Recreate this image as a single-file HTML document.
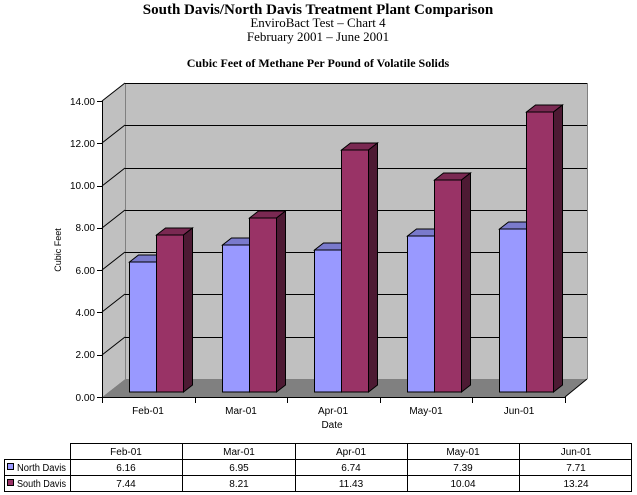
<!DOCTYPE html>
<html><head><meta charset="utf-8"><style>
body{margin:0;background:#fff;width:637px;height:495px;overflow:hidden}
svg{display:block}
.s{font-family:"Liberation Sans",sans-serif;font-size:10px}
.t{font-family:"Liberation Serif",serif}
</style></head><body>
<svg id="c" width="637" height="495" xmlns="http://www.w3.org/2000/svg">
<text class="t" x="318" y="14" text-anchor="middle" font-size="15" font-weight="bold">South Davis/North Davis Treatment Plant Comparison</text>
<text class="t" x="318" y="27" text-anchor="middle" font-size="13">EnviroBact Test – Chart 4</text>
<text class="t" x="318" y="41" text-anchor="middle" font-size="13">February 2001 – June 2001</text>
<text class="t" x="318" y="67" text-anchor="middle" font-size="12" font-weight="bold">Cubic Feet of Methane Per Pound of Volatile Solids</text>
<g id="plot"></g>
<g class="s">
<text x="95" y="105" text-anchor="end">14.00</text>
<text x="95" y="147" text-anchor="end">12.00</text>
<text x="95" y="189" text-anchor="end">10.00</text>
<text x="95" y="231" text-anchor="end">8.00</text>
<text x="95" y="274" text-anchor="end">6.00</text>
<text x="95" y="316" text-anchor="end">4.00</text>
<text x="95" y="358" text-anchor="end">2.00</text>
<text x="95" y="401" text-anchor="end">0.00</text>
<text x="148" y="414" text-anchor="middle">Feb-01</text>
<text x="241" y="414" text-anchor="middle">Mar-01</text>
<text x="333" y="414" text-anchor="middle">Apr-01</text>
<text x="426" y="414" text-anchor="middle">May-01</text>
<text x="519" y="414" text-anchor="middle">Jun-01</text>
<text x="332" y="428" text-anchor="middle">Date</text>
<text transform="translate(61,250) rotate(-90)" text-anchor="middle" font-size="9">Cubic Feet</text>
</g>
<g class="s" stroke="#000" fill="none">
<line x1="70" y1="443.5" x2="632" y2="443.5"/>
<line x1="4" y1="459.5" x2="632" y2="459.5"/>
<line x1="4" y1="475.5" x2="632" y2="475.5"/>
<line x1="4" y1="491.5" x2="632" y2="491.5"/>
<line x1="4.5" y1="459" x2="4.5" y2="492"/>
<line x1="70.5" y1="443" x2="70.5" y2="492"/>
<line x1="182.5" y1="443" x2="182.5" y2="492"/>
<line x1="295.5" y1="443" x2="295.5" y2="492"/>
<line x1="407.5" y1="443" x2="407.5" y2="492"/>
<line x1="519.5" y1="443" x2="519.5" y2="492"/>
<line x1="631.5" y1="443" x2="631.5" y2="492"/>
<rect x="7.5" y="463.5" width="6" height="6" fill="#9999ff"/>
<rect x="7.5" y="479.5" width="6" height="6" fill="#993366"/>
</g>
<g class="s" text-anchor="middle">
<text x="126" y="455">Feb-01</text><text x="239" y="455">Mar-01</text><text x="351" y="455">Apr-01</text><text x="463" y="455">May-01</text><text x="576" y="455">Jun-01</text>
<text x="126" y="471">6.16</text><text x="239" y="471">6.95</text><text x="351" y="471">6.74</text><text x="463" y="471">7.39</text><text x="576" y="471">7.71</text>
<text x="126" y="487">7.44</text><text x="239" y="487">8.21</text><text x="351" y="487">11.43</text><text x="463" y="487">10.04</text><text x="576" y="487">13.24</text>
<text x="17" y="471" text-anchor="start" textLength="49" lengthAdjust="spacingAndGlyphs">North Davis</text>
<text x="17" y="487" text-anchor="start" textLength="49" lengthAdjust="spacingAndGlyphs">South Davis</text>
</g>
</svg>
<script>
var g=document.getElementById('plot'),h='';
var S=21.14;
h+='<polygon points="102,397 125,379 587,379 565,397" fill="#808080"/>';
h+='<polygon points="102,397 102,101 125,83 125,379" fill="#c0c0c0"/>';
h+='<rect x="125" y="83" width="462" height="296" fill="#c0c0c0"/>';
h+='<line x1="125.5" y1="83" x2="125.5" y2="379" stroke="#808080"/>';
h+='<line x1="587.5" y1="83" x2="587.5" y2="379" stroke="#808080"/>';
h+='<line x1="565" y1="397" x2="587" y2="379" stroke="#000"/>';
for(var k=1;k<=7;k++){var yb=Math.round(379-k*2*S)+.5,yf=Math.round(397-k*2*S);
h+='<line x1="125" y1="'+yb+'" x2="587" y2="'+yb+'" stroke="#000"/>';
h+='<line x1="102" y1="'+yf+'" x2="125" y2="'+(yb-.5)+'" stroke="#000"/>';}
for(k=0;k<=7;k++){var y=Math.round(397-k*2*S)+.5;h+='<line x1="97" y1="'+y+'" x2="102" y2="'+y+'" stroke="#000"/>';}
h+='<line x1="102.5" y1="101" x2="102.5" y2="397" stroke="#000"/>';
h+='<line x1="102" y1="397.5" x2="565" y2="397.5" stroke="#000"/>';
for(k=0;k<=5;k++){var x=Math.round(102+92.6*k)+.5;h+='<line x1="'+x+'" y1="397" x2="'+x+'" y2="403" stroke="#000"/>';}
var A=[6.16,6.95,6.74,7.39,7.71],B=[7.44,8.21,11.43,10.04,13.24];
function bar(x,v,f,top,side){var w=27,b=392,t=Math.round(b-v*S),dx=9,dy=7;
return '<polygon points="'+x+','+t+' '+(x+dx)+','+(t-dy)+' '+(x+w+dx)+','+(t-dy)+' '+(x+w)+','+t+'" fill="'+top+'" stroke="#000"/>'+
'<polygon points="'+(x+w)+','+t+' '+(x+w+dx)+','+(t-dy)+' '+(x+w+dx)+','+(b-dy)+' '+(x+w)+','+b+'" fill="'+side+'" stroke="#000"/>'+
'<rect x="'+x+'" y="'+t+'" width="'+w+'" height="'+(b-t)+'" fill="'+f+'" stroke="#000"/>';}
for(var i=0;i<5;i++){var c=Math.round(102+92.6*i)+.5;
h+=bar(c+27,A[i],'#9999ff','#7a7acc','#4d4d80');
h+=bar(c+54,B[i],'#993366','#7a2952','#4d1a33');}
g.innerHTML=h;
</script>
</body></html>
